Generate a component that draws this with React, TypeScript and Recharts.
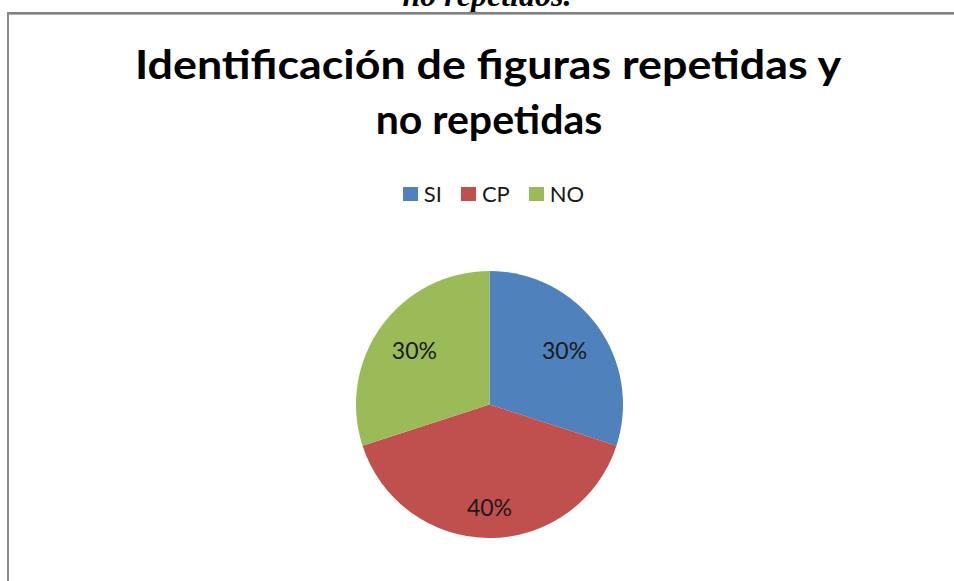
import { PieChart, Pie, Cell } from "recharts";

const categories = ["SI", "CP", "NO"];
const shares = [30, 40, 30];
const COLORS = ["#4F81BD", "#C0504D", "#9BBB59"];

const titleLines = ["Identificación de figuras repetidas y", "no repetidas"];
const captionText = "no repetidos.";

const data = categories.map((name, i) => ({ name, value: shares[i] }));

const RAD = Math.PI / 180;

const renderLabel = (props: any) => {
  const { cx, cy, midAngle, outerRadius, percent } = props;
  const r = outerRadius * (0.47 + 0.75 * percent);
  const x = cx + r * Math.cos(-midAngle * RAD);
  const y = cy + r * Math.sin(-midAngle * RAD);
  return (
    <text
      x={x}
      y={y}
      textAnchor="middle"
      dominantBaseline="central"
      fill="#1a1a1a"
      fontFamily="Lato, sans-serif"
      fontSize={23}
    >
      {`${Math.round(percent * 100)}%`}
    </text>
  );
};

// legend kept in the same order as the series
const LegendRow = () => (
  <div
    style={{
      position: "absolute",
      top: 180,
      left: 0,
      width: 954,
      display: "flex",
      justifyContent: "center",
      alignItems: "center",
      gap: 19,
      fontFamily: "Lato, sans-serif",
      fontSize: 22,
      color: "#1a1a1a",
      paddingLeft: 33,
      boxSizing: "border-box",
    }}
  >
    {categories.map((c, i) => (
      <div key={`leg-${i}`} style={{ display: "flex", alignItems: "center" }}>
        <span style={{ width: 15, height: 14, background: COLORS[i], display: "inline-block", marginRight: 6 }} />
        <span>{c}</span>
      </div>
    ))}
  </div>
);

const App = () => {
  return (
    <div style={{ position: "absolute", left: 0, top: 0, width: 954, height: 581, background: "#fff", overflow: "hidden" }}>
      <svg width={954} height={581} style={{ position: "absolute", left: 0, top: 0 }}>
        <text
          x={487}
          y={6}
          textAnchor="middle"
          fontFamily="'Liberation Serif', serif"
          fontWeight="bold"
          fontStyle="italic"
          fontSize={32}
          fill="#000"
        >
          {captionText}
        </text>
        <line x1={7} y1={13} x2={954} y2={13} stroke="#808080" strokeWidth={2} />
        <line x1={9} y1={14.5} x2={954} y2={14.5} stroke="#b0b0b0" strokeWidth={1} />
        <line x1={8} y1={12} x2={8} y2={581} stroke="#8a8a8a" strokeWidth={2} />
        <text
          x={488}
          y={79}
          textAnchor="middle"
          fontFamily="Lato, sans-serif"
          fontWeight="bold"
          fontSize={41}
          fill="#000"
          textLength={706}
          lengthAdjust="spacingAndGlyphs"
        >
          {titleLines[0]}
        </text>
        <text
          x={489}
          y={134}
          textAnchor="middle"
          fontFamily="Lato, sans-serif"
          fontWeight="bold"
          fontSize={41}
          fill="#000"
        >
          {titleLines[1]}
        </text>
      </svg>
      <LegendRow />
      <div style={{ position: "absolute", left: 0, top: 0 }}>
        <PieChart width={954} height={581} margin={{ top: 0, right: 0, bottom: 0, left: 0 }}>
          <Pie
            data={data}
            dataKey="value"
            nameKey="name"
            cx={489.5}
            cy={404.5}
            outerRadius={133.5}
            startAngle={90}
            endAngle={-270}
            stroke="none"
            label={renderLabel}
            labelLine={false}
            isAnimationActive={false}
          >
            {data.map((entry, index) => (
              <Cell key={`cell-${index}`} fill={COLORS[index % COLORS.length]} />
            ))}
          </Pie>
        </PieChart>
      </div>
    </div>
  );
};

export default App;
